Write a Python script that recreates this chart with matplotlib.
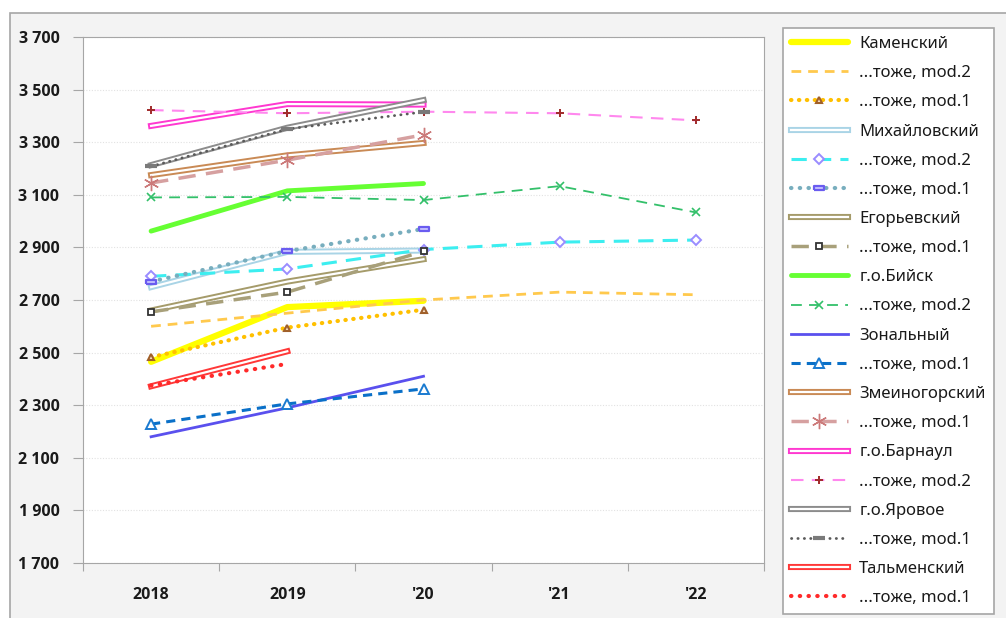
import numpy as np
import matplotlib
matplotlib.use("Agg")
from matplotlib import pyplot as plt
from matplotlib import patheffects as pe
from matplotlib.patches import Rectangle

plt.rcParams["font.family"] = ["Noto Sans", "DejaVu Sans"]

nan = np.nan
years = ["2018", "2019", "'20", "'21", "'22"]

kamensky = [2465, 2673, 2697, nan, nan]
kamensky_m2 = [2600, 2650, 2700, 2730, 2720]
kamensky_m1 = [2483, 2595, 2663, nan, nan]
mikhaylovsky = [2749, 2883, 2888, nan, nan]
mikhaylovsky_m2 = [2790, 2818, 2892, 2920, 2928]
mikhaylovsky_m1 = [2770, 2886, 2970, nan, nan]
egoryevsky = [2660, 2770, 2855, nan, nan]
egoryevsky_m1 = [2655, 2730, 2885, nan, nan]
biysk = [2962, 3115, 3143, nan, nan]
biysk_m2 = [3090, 3092, 3080, 3133, 3033]
zonalny = [2180, 2290, 2410, nan, nan]
zonalny_m1 = [2228, 2305, 2362, nan, nan]
zmeinogorsky = [3175, 3250, 3297, nan, nan]
zmeinogorsky_m1 = [3145, 3232, 3328, nan, nan]
barnaul = [3362, 3445, 3443, nan, nan]
barnaul_m2 = [3422, 3410, 3416, 3410, 3383]
yarovoe = [3213, 3355, 3460, nan, nan]
yarovoe_m1 = [3208, 3350, 3415, nan, nan]
talmensky = [2372, 2505, nan, nan, nan]
talmensky_m1 = [2375, 2457, nan, nan, nan]

x = np.arange(len(years))

fig = plt.figure(figsize=(10.06, 6.18), dpi=100, facecolor="white")
# grey chart area with a frame, like the spreadsheet chart
fig.patches.append(Rectangle((10 / 1006, -0.1), 1.2, 1 - 13 / 618 + 0.1,
                             transform=fig.transFigure, facecolor="#f3f3f3",
                             edgecolor="#a6a6a6", linewidth=1.2, zorder=-10))
ax = fig.add_axes([83 / 1006, 1 - 563 / 618, (764 - 83) / 1006, (563 - 37) / 618])
ax.set_facecolor("white")


def double(color, w=4.4):
    # spreadsheet "double" line: coloured stroke with white core
    return dict(color="white", lw=1.6,
                path_effects=[pe.Stroke(linewidth=w, foreground=color), pe.Normal()])


rect = [(-1, -0.45), (1, -0.45), (1, 0.45), (-1, 0.45), (-1, -0.45)]

ax.plot(x, kamensky, color="#ffff00", lw=4.5, solid_capstyle="round", label="Каменский")
ax.plot(x, kamensky_m2, color="#ffc94d", lw=2, ls=(0, (3.5, 2.5)), label="...тоже, mod.2")
ax.plot(x, kamensky_m1, color="#ffc000", lw=3, ls=(0, (0.1, 1.8)), dash_capstyle="round",
        marker="^", ms=5, mfc="#f8e0c8", mec="#a0602a", mew=1.5, label="...тоже, mod.1")
ax.plot(x, mikhaylovsky, label="Михайловский", **double("#a9d4e6"))
ax.plot(x, mikhaylovsky_m2, color="#3ceef0", lw=2.2, ls=(0, (5, 3)),
        marker="D", ms=5.5, mfc="white", mec="#9a8cff", mew=1.4, label="...тоже, mod.2")
ax.plot(x, mikhaylovsky_m1, color="#78aebe", lw=3, ls=(0, (0.1, 2)), dash_capstyle="round",
        marker=rect, ms=7, mfc="#c8c4ff", mec="#6a5cf0", mew=1.6, label="...тоже, mod.1")
ax.plot(x, egoryevsky, label="Егорьевский", **double("#a59b6a"))
ax.plot(x, egoryevsky_m1, color="#a8a07a", lw=2.5, ls=(0, (5, 3)),
        marker="s", ms=5, mfc="white", mec="#333333", mew=1.3, label="...тоже, mod.1")
ax.plot(x, biysk, color="#66ff33", lw=3.5, solid_capstyle="round", label="г.о.Бийск")
ax.plot(x, biysk_m2, color="#33c06a", lw=1.3, ls=(0, (6, 4)),
        marker="x", ms=6, mec="#33c06a", mew=1.2, label="...тоже, mod.2")
ax.plot(x, zonalny, color="#5a50ee", lw=2, label="Зональный")
ax.plot(x, zonalny_m1, color="#0a70c8", lw=2.2, ls=(0, (3, 2)),
        marker="^", ms=7, mfc="white", mec="#1a7ad0", mew=1.4, label="...тоже, mod.1")
ax.plot(x, zmeinogorsky, label="Змеиногорский", **double("#c98a55"))
ax.plot(x, zmeinogorsky_m1, color="#d6a0a0", lw=2.5, ls=(0, (5, 3)),
        marker=(6, 2, 0), ms=11, mec="#cc7a7a", mew=1.0, label="...тоже, mod.1")
ax.plot(x, barnaul, label="г.о.Барнаул", **double("#ff38d0"))
ax.plot(x, barnaul_m2, color="#ff88ee", lw=1.5, ls=(0, (6, 4)),
        marker="+", ms=6, mec="#a02a2a", mew=1.4, label="...тоже, mod.2")
ax.plot(x, yarovoe, label="г.о.Яровое", **double("#8c8c8c"))
ax.plot(x, yarovoe_m1, color="#5a5a5a", lw=2, ls=(0, (0.1, 2.2)), dash_capstyle="round",
        marker="_", ms=8, mec="#7a7a7a", mew=3, label="...тоже, mod.1")
ax.plot(x, talmensky, label="Тальменский", **double("#ff3838"))
ax.plot(x, talmensky_m1, color="#ff2a2a", lw=3, ls=(0, (0.1, 2)), dash_capstyle="round",
        label="...тоже, mod.1")

# axes
tick_font = dict(family=["Open Sans", "DejaVu Sans"], weight="bold", size=11.5)
ax.set_xlim(-0.5, len(years) - 0.5)
ax.set_ylim(1700, 3700)
yt = np.arange(1700, 3701, 200)
ax.set_yticks(yt)
ax.set_yticklabels([f"{v:,}".replace(",", " ") for v in yt], fontdict=tick_font)
ax.set_xticks(np.arange(-0.5, len(years), 1))
ax.set_xticklabels([])
ax.set_xticks(x, minor=True)
ax.set_xticklabels(years, minor=True, fontdict=tick_font)
ax.tick_params(axis="x", which="major", direction="out", length=6, color="#a6a6a6")
ax.tick_params(axis="x", which="minor", length=0, pad=17, labelcolor="#1a1a1a")
ax.tick_params(axis="y", direction="out", length=7, color="#a6a6a6", pad=10,
               labelcolor="#1a1a1a")
for s in ax.spines.values():
    s.set_color("#a6a6a6")
ax.grid(axis="y", color="#e2e2e2", ls=(0, (1, 1.5)), lw=0.8)
ax.set_axisbelow(True)

leg = fig.legend(loc="upper left", bbox_to_anchor=(783 / 1006, 1 - 28 / 618),
                 frameon=True, fancybox=False, edgecolor="#a6a6a6", facecolor="white",
                 framealpha=1, fontsize=12, handlelength=3.4, handletextpad=0.7,
                 labelspacing=0.79, borderpad=0.48, borderaxespad=0)
leg.get_frame().set_linewidth(1.2)
for t in leg.get_texts():
    t.set_color("#1a1a1a")

fig.savefig("out.png", dpi=100, facecolor=fig.get_facecolor())
